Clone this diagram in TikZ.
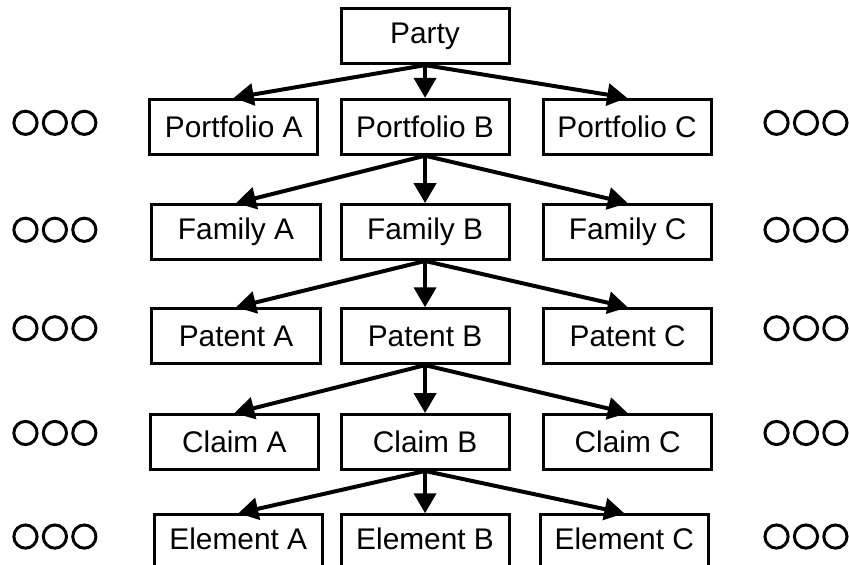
\documentclass[tikz,border=0pt]{standalone}
\usepackage{fontspec}
\setmainfont{Liberation Sans}
\usetikzlibrary{arrows.meta}

\tikzset{
  livello/.style={draw, line width=1.5pt, minimum width=2.97cm, minimum height=0.97cm,
    inner sep=0pt, font=\fontsize{15}{18}\selectfont},
  freccia/.style={->, line width=2pt}
}

\begin{document}
\begin{tikzpicture}[>={Triangle[length=10pt,width=11pt]}, scale=1.0]
\useasboundingbox (0,0) rectangle (15,-9.982);

% Radice
\node[livello] (party) at (7.51,-0.64) {Party};

% Portafogli
\node[livello] (portA) at (4.13,-2.24) {Portfolio A};
\node[livello] (portB) at (7.51,-2.24) {Portfolio B};
\node[livello] (portC) at (11.08,-2.24) {Portfolio C};

% Famiglie
\node[livello] (famA) at (4.17,-4.10) {Family A};
\node[livello] (famB) at (7.51,-4.10) {Family B};
\node[livello] (famC) at (11.09,-4.10) {Family C};

% Brevetti
\node[livello] (patA) at (4.17,-5.94) {Patent A};
\node[livello] (patB) at (7.51,-5.94) {Patent B};
\node[livello] (patC) at (11.09,-5.94) {Patent C};

% Rivendicazioni
\node[livello] (claimA) at (4.14,-7.81) {Claim A};
\node[livello] (claimB) at (7.51,-7.81) {Claim B};
\node[livello] (claimC) at (11.09,-7.81) {Claim C};

% Elementi (tagliati in basso)
\node[livello, text depth=0.12cm] (elemA) at (4.21,-9.58) {Element A};
\node[livello, text depth=0.12cm] (elemB) at (7.51,-9.58) {Element B};
\node[livello, text depth=0.12cm] (elemC) at (11.03,-9.58) {Element C};

% Frecce
\path (party.south) edge[freccia] (portA.north) edge[freccia] (portB.north) edge[freccia] (portC.north);
\path (portB.south) edge[freccia] (famA.north) edge[freccia] (famB.north) edge[freccia] (famC.north);
\path (famB.south) edge[freccia] (patA.north) edge[freccia] (patB.north) edge[freccia] (patC.north);
\path (patB.south) edge[freccia] (claimA.north) edge[freccia] (claimB.north) edge[freccia] (claimC.north);
\path (claimB.south) edge[freccia] (elemA.north) edge[freccia] (elemB.north) edge[freccia] (elemC.north);

% Puntini a sinistra e a destra
\foreach \y in {-2.17,-4.06,-5.80,-7.65,-9.48}
  \foreach \dx in {-0.52,0,0.52} {
    \draw[line width=1.5pt] (0.97+\dx,\y) circle (0.205);
    \draw[line width=1.5pt] (14.24+\dx,\y) circle (0.205);
  }

\end{tikzpicture}
\end{document}
